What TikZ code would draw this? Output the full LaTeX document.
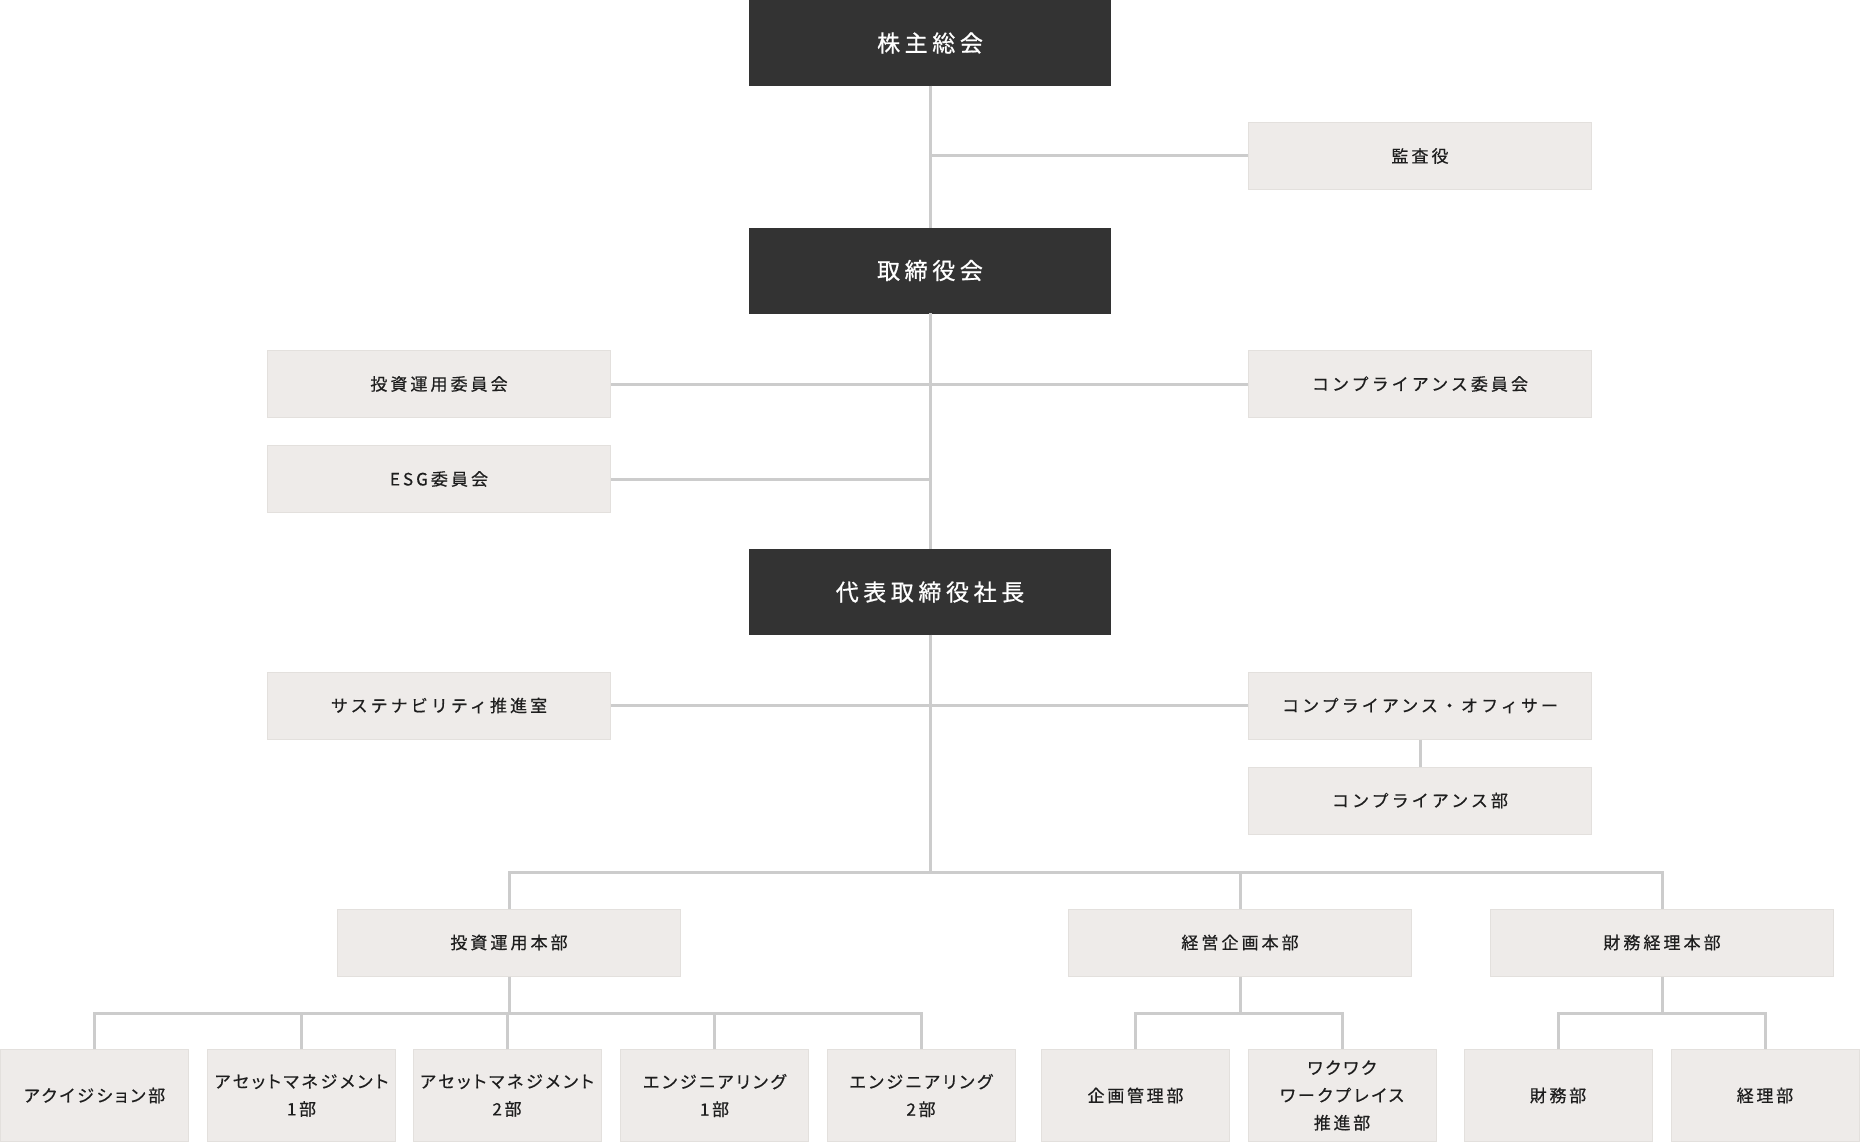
\documentclass[tikz,border=0pt]{standalone}
\usepackage{fontspec}
\newfontfamily\jp[LetterSpace=18,FakeBold=0.5]{Noto Sans CJK JP}
\newfontfamily\jpu[LetterSpace=16,FakeBold=0.5,RawFeature={+palt}]{Noto Sans CJK JP}
\newfontfamily\jpb[LetterSpace=20,FakeBold=0.8]{Noto Sans CJK JP}
\definecolor{darkbox}{HTML}{333333}
\definecolor{boxbg}{HTML}{EEEBE9}
\definecolor{boxline}{HTML}{E3E0DD}
\definecolor{linec}{HTML}{CCCCCC}
\definecolor{textc}{HTML}{1E1E1E}
\tikzset{
  darkbox/.style={fill=darkbox, draw=darkbox, text=white, minimum width=361pt, minimum height=85pt, inner sep=0pt, font=\jpb\fontsize{23}{28}\selectfont},
  lightbox/.style={fill=boxbg, draw=boxline, line width=1pt, text=textc, minimum width=343pt, minimum height=67pt, inner sep=0pt, font=\jp\fontsize{17}{27.5}\selectfont, align=center},
  unitbox/.style={lightbox, minimum width=188pt, minimum height=92pt, font=\jpu\fontsize{17}{27.5}\selectfont},
  conn/.style={draw=linec, line width=3pt, line join=miter}
}
\begin{document}
\begin{tikzpicture}[x=1pt,y=-1pt]
\useasboundingbox (0,0) rectangle (1860,1142);
\fill[white] (0,0) rectangle (1860,1142);
% nodes
\node[darkbox] (gm) at (930,43) {株主総会};
\node[lightbox] (audit) at (1420,156) {監査役};
\node[darkbox] (board) at (930,270.5) {取締役会};
\node[lightbox] (invc) at (439,384) {投資運用委員会};
\node[lightbox] (compc) at (1420,384) {コンプライアンス委員会};
\node[lightbox] (esg) at (439,479) {ESG委員会};
\node[darkbox] (ceo) at (930,592) {代表取締役社長};
\node[lightbox] (sus) at (439,705.5) {サステナビリティ推進室};
\node[lightbox] (cco) at (1420,705.5) {コンプライアンス・オフィサー};
\node[lightbox] (compd) at (1420,800.5) {コンプライアンス部};
\node[lightbox] (hqa) at (509,942.5) {投資運用本部};
\node[lightbox] (hqb) at (1240,942.5) {経営企画本部};
\node[lightbox] (hqc) at (1662,942.5) {財務経理本部};
\node[unitbox] (ua) at (94.5,1095.5) {アクイジション部};
\node[unitbox] (ub) at (301.5,1095.5) {アセットマネジメント\\1部};
\node[unitbox] (uc) at (507,1095.5) {アセットマネジメント\\2部};
\node[unitbox] (ud) at (714.5,1095.5) {エンジニアリング\\1部};
\node[unitbox] (ue) at (921,1095.5) {エンジニアリング\\2部};
\node[unitbox] (uf) at (1135.5,1095.5) {企画管理部};
\node[unitbox] (ug) at (1342,1095.5) {ワクワク\\ワークプレイス\\推進部};
\node[unitbox] (uh) at (1558,1095.5) {財務部};
\node[unitbox] (ui) at (1765,1095.5) {経理部};
% bus coordinates
\coordinate (busa) at (930,872);
\coordinate (busb) at (0,1013);
% connectors
\draw[conn] (gm.south) -- (board.north);
\draw[conn] (gm.south |- audit.west) -- (audit.west);
\draw[conn] (board.south) -- (ceo.north);
\draw[conn] (invc.east) -- (compc.west);
\draw[conn] (esg.east) -- (esg.east -| board.south);
\draw[conn] (sus.east) -- (cco.west);
\draw[conn] (cco.south) -- (compd.north);
\draw[conn] (ceo.south) -- (busa);
\draw[conn] (hqa.north) |- (hqc.north |- busa) -- (hqc.north);
\draw[conn] (hqb.north) -- (hqb.north |- busa);
\draw[conn] (ua.north) |- (ue.north |- busb) -- (ue.north);
\draw[conn] (hqa.south) -- (hqa.south |- busb);
\draw[conn] (ub.north) -- (ub.north |- busb);
\draw[conn] (uc.north) -- (uc.north |- busb);
\draw[conn] (ud.north) -- (ud.north |- busb);
\draw[conn] (uf.north) |- (ug.north |- busb) -- (ug.north);
\draw[conn] (hqb.south) -- (hqb.south |- busb);
\draw[conn] (uh.north) |- (ui.north |- busb) -- (ui.north);
\draw[conn] (hqc.south) -- (hqc.south |- busb);
\end{tikzpicture}
\end{document}
